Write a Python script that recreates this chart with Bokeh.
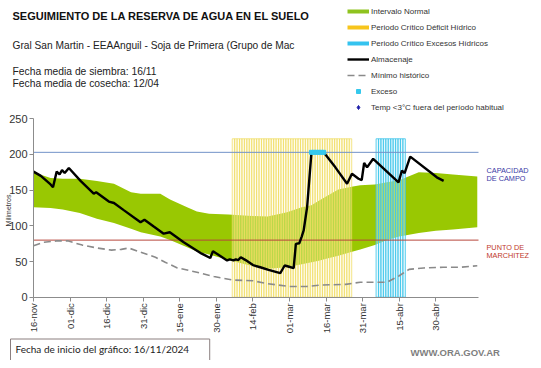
import math
from bokeh.plotting import figure
from bokeh.models import Range1d, Label, Legend, LegendItem, FixedTicker, LinearAxis
from bokeh.embed import file_html
from bokeh.resources import INLINE

# ---------------- data ----------------
tick_dias = [0, 15, 30, 45, 60, 75, 90, 105, 120, 135, 150, 165]
tick_labels = ["16-nov", "01-dic", "16-dic", "31-dic", "15-ene", "30-ene",
               "14-feb", "01-mar", "16-mar", "31-mar", "15-abr", "30-abr"]

banda_dias = [0, 7, 12, 19, 26, 33, 40, 44, 52, 56, 63, 67, 72, 80, 88, 96, 104, 110, 114, 117,
              120, 125, 131, 134, 140, 145, 150, 158, 165, 172, 182]
banda_sup = [175, 167, 166, 166, 163, 159, 147, 145, 145, 137, 126, 120, 117, 116, 114, 113, 119, 126, 129, 135,
             141, 151, 155, 157, 158, 161, 164, 175, 174, 172, 169]
banda_inf = [126, 125, 123, 118, 110, 104, 96, 91, 85, 80, 70, 64, 60, 52, 45, 40, 42, 46, 49, 51,
             54, 58, 64, 67, 73, 80, 85, 90, 93, 95, 98]

min_dias = [0, 4, 10, 14, 20, 26, 32, 36, 39, 44, 50, 54, 59, 67, 74, 82, 90, 96, 105, 112,
            118, 128, 134, 145, 150, 154, 160, 168, 175, 182]
min_vals = [72, 77, 79, 79, 73, 69, 66, 67, 69, 63, 56, 49, 41, 35, 29, 24, 23, 19, 15, 15,
            17, 18, 21, 21, 30, 39, 41, 42, 42, 44]

alm_dias = [0, 3, 7, 8, 9.5, 10.7, 11.7, 12.8, 14.5, 19.3, 24.7, 25.7, 30.9, 33, 37, 43.9, 45.5, 49.3,
            53.4, 55.9, 61.6, 69, 72.5, 73.6, 79.4, 80.5, 82, 83, 84, 85, 87, 90, 93, 96.4, 101.2,
            103, 104.5, 106.7, 107.6, 109, 110, 110.8, 112.2, 114, 119, 123.8, 128.6, 130.6, 133.3,
            134.6, 135.6, 136.8, 139.3, 149.7, 151.1, 152.2, 154.5, 165.4, 168.2]
alm_vals = [176, 170, 158, 154, 176, 172, 178, 174, 181, 163, 145, 147, 134, 132, 122, 105, 108.5, 99,
            89, 91, 77, 61, 55, 64.5, 51.5, 53, 51.5, 53, 52, 56, 52, 45, 42, 38.4, 33.6,
            44.4, 43, 40.6, 74.8, 75.6, 85, 93.5, 126, 203, 203, 182, 159, 173, 166,
            164, 188, 182, 194, 161, 177.5, 174, 197, 168, 163]

exceso_dias = [114, 115, 116, 117, 118, 119]
exceso_vals = [203, 203, 203, 203, 203, 203]

deficit_inicio, deficit_fin = 82, 130
excesos_inicio, excesos_fin = 141, 152
periodo_alto = 222

capacidad_campo = 203
punto_marchitez = 80

NAN = [float("nan")]   # legend-only renderers draw nothing in the plot

# ---------------- layout ----------------
W, H = 533, 360
FL, FR, FT, FB = 33, 55, 118.3, 63.3   # virtual plotting-area margins
X_END = 182.5
Y_END = 250
PPX = (W - FL - FR) / X_END
PPY = (H - FT - FB) / Y_END


def xd(px):
    return (px - FL) / PPX


def yd(py):
    return (H - FB - py) / PPY


p = figure(width=W, height=H, output_backend="svg", toolbar_location=None,
           x_range=Range1d(-FL / PPX, X_END + FR / PPX),
           y_range=Range1d(-FB / PPY, Y_END + FT / PPY),
           min_border_left=0, min_border_right=0, min_border_top=0, min_border_bottom=0,
           x_axis_location=None, y_axis_location=None)
p.outline_line_color = None
p.xgrid.visible = False
p.ygrid.visible = False
p.background_fill_color = "white"

FONT = "Liberation Sans"

# green band
band = p.varea(x=banda_dias, y1=banda_inf, y2=banda_sup, fill_color="#99c802")

# critical periods (daily bars)
def_dias = list(range(deficit_inicio, deficit_fin + 1))
exc_dias = list(range(excesos_inicio, excesos_fin + 1))
p.vbar(x=def_dias, top=periodo_alto, bottom=0, width=1, fill_color="#fcf6cf", fill_alpha=0.35,
       line_color="#efdc5c", line_width=1, line_alpha=0.7)
p.vbar(x=exc_dias, top=periodo_alto, bottom=0, width=1, fill_color="#c8f0fa", fill_alpha=0.45,
       line_color="#3cc4ea", line_width=1, line_alpha=0.8)

# reference lines
p.line(x=[0, X_END], y=[capacidad_campo, capacidad_campo], line_color="#7192c8", line_width=1)
p.line(x=[0, X_END], y=[punto_marchitez, punto_marchitez], line_color="#b8473c", line_width=1)

minimo = p.line(x=min_dias, y=min_vals, line_color="#8a8a8a", line_width=1.6, line_dash="7 4")
alm = p.line(x=alm_dias, y=alm_vals, line_color="black", line_width=2.4)
exc = p.scatter(x=exceso_dias, y=exceso_vals, marker="square", size=4, color="#35c8ec")

# legend-only renderers
lg_green = p.line(x=NAN, y=NAN, line_color="#8fc31f", line_width=4)
lg_yellow = p.line(x=NAN, y=NAN, line_color="#f7c51c", line_width=4)
lg_cyan = p.line(x=NAN, y=NAN, line_color="#35c3ef", line_width=4)
lg_exc = p.scatter(x=NAN, y=NAN, marker="square", size=3, color="#35c8ec")
lg_temp = p.scatter(x=NAN, y=NAN, marker="diamond", size=5, color="#1a1aa8")

legend = Legend(items=[
    LegendItem(label="Intervalo Normal", renderers=[lg_green]),
    LegendItem(label="Periodo Crítico Déficit Hídrico", renderers=[lg_yellow]),
    LegendItem(label="Periodo Crítico Excesos Hídricos", renderers=[lg_cyan]),
    LegendItem(label="Almacenaje", renderers=[alm]),
    LegendItem(label="Mínimo histórico", renderers=[minimo]),
    LegendItem(label="Exceso", renderers=[lg_exc]),
    LegendItem(label="Temp <3°C fuera del período habitual", renderers=[lg_temp]),
], location=(347, 248), orientation="vertical", padding=0, margin=0, spacing=6,
    glyph_width=22, glyph_height=10, label_height=10, label_standoff=2,
    label_text_font_size="8px", label_text_font=FONT, label_text_color="#333333",
    border_line_color=None, background_fill_alpha=0)
p.add_layout(legend)

# axes (drawn at the data origin)
yaxis = LinearAxis(fixed_location=0, bounds=(0, Y_END))
xaxis = LinearAxis(fixed_location=0, bounds=(0, X_END))
p.add_layout(yaxis, "left")
p.add_layout(xaxis, "below")

yaxis.ticker = FixedTicker(ticks=[0, 50, 100, 150, 200, 250])
yaxis.major_label_text_font = FONT
yaxis.major_label_text_font_size = "11px"
yaxis.major_label_text_color = "#333333"
yaxis.major_tick_in = 0
yaxis.major_tick_out = 4
yaxis.minor_tick_line_color = None
yaxis.axis_line_color = "#8c8c8c"
yaxis.major_tick_line_color = "#8c8c8c"
yaxis.major_label_standoff = 2

xaxis.ticker = FixedTicker(ticks=tick_dias)
xaxis.major_label_overrides = {d: t for d, t in zip(tick_dias, tick_labels)}
xaxis.major_label_orientation = math.pi / 2
xaxis.major_label_text_font = FONT
xaxis.major_label_text_font_size = "9.5px"
xaxis.major_label_text_color = "#333333"
xaxis.major_tick_in = 0
xaxis.major_tick_out = 4
xaxis.minor_tick_line_color = None
xaxis.axis_line_color = "#8c8c8c"
xaxis.major_tick_line_color = "#8c8c8c"
xaxis.major_label_standoff = 2


def lab(text, px, py, size, color="#1a1a1a", bold=False, align="left", baseline="middle",
        angle=0, font=FONT, **kw):
    l = Label(x=xd(px), y=yd(py), text=text, text_font_size=f"{size}px", text_color=color,
              text_font_style="bold" if bold else "normal", text_align=align,
              text_baseline=baseline, angle=angle, text_font=font, **kw)
    p.add_layout(l)
    return l


lab("SEGUIMIENTO DE LA RESERVA DE AGUA  EN EL SUELO", 12, 15.7, 11, bold=True, color="#111111")
lab("Gral San Martin - EEAAnguil - Soja de Primera (Grupo de Mac", 12, 45, 10.2, color="#222222")
lab("Fecha media de siembra: 16/11", 12, 71, 10.3, color="#222222")
lab("Fecha media de cosecha: 12/04", 12, 83.3, 10.3, color="#222222")

lab("Milimetros", 4, 210, 7, angle=math.pi / 2, align="center", baseline="top", color="#333333")

lab("CAPACIDAD", 486, 170, 7.3, color="#3a3aa6")
lab("DE  CAMPO", 486, 178.3, 7.3, color="#3a3aa6")
lab("PUNTO   DE", 486, 247.3, 7.3, color="#c0392b")
lab("MARCHITEZ", 486, 255, 7.3, color="#c0392b")

lab("Fecha de inicio del gráfico:  16/11/2024", 10, 350, 10, font="Lato", color="#222222",
    padding=(5, 18, 4, 7), border_line_color="#8b7f7f", background_fill_color="white")
lab("WWW.ORA.GOV.AR", 410, 352, 9.5, bold=True, color="#7f7f7f")

open("out.html", "w").write(file_html(p, INLINE))
